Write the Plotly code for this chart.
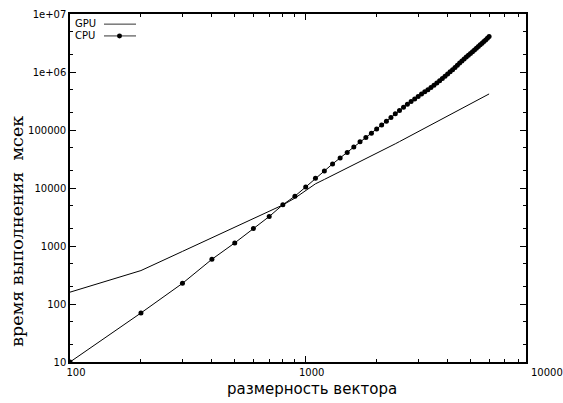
import plotly.graph_objects as go

# ---- data ----
sizes = [100, 200, 300, 400, 500, 600, 700, 800, 900, 1000,
         1100, 1200, 1300, 1400, 1500, 1600, 1700, 1800, 1900, 2000,
         2100, 2200, 2300, 2400, 2500, 2600, 2700, 2800, 2900, 3000,
         3100, 3200, 3300, 3400, 3500, 3600, 3700, 3800, 3900, 4000,
         4100, 4200, 4300, 4400, 4500, 4600, 4700, 4800, 4900, 5000,
         5100, 5200, 5300, 5400, 5500, 5600, 5700, 5800, 5900, 6000]

gpu_ms = [160, 377, 807, 1387, 2110, 2972, 3972, 5105, 6700, 8900,
          11800, 14040, 16480, 19110, 21940, 24970, 28180, 31600, 35200, 39010,
          43400, 47900, 52700, 57800, 63100, 68700, 74600, 80700, 87000, 93600,
          100400, 107600, 115000, 122700, 130600, 138800, 147200, 156000, 165000, 174300,
          183800, 193700, 203800, 214200, 224800, 235700, 246900, 258400, 270100, 282200,
          294500, 307200, 320100, 333300, 346700, 360500, 374500, 388900, 403600, 418500]

cpu_ms = [10, 70, 227, 590, 1130, 2010, 3220, 5150, 7230, 10400,
          14700, 19600, 26000, 33000, 41000, 51000, 62500, 74500, 88000, 104000,
          122000, 142000, 165000, 190000, 217000, 247000, 278500, 311000, 344000, 379000,
          416000, 455000, 495000, 538000, 589000, 643000, 704000, 770000, 843000, 923000,
          1007000, 1097000, 1199000, 1309000, 1427000, 1551000, 1675000, 1805000, 1942000, 2089000,
          2242000, 2404000, 2575000, 2754000, 2941000, 3138000, 3345000, 3560000, 3805000, 4110000]

x_tick_vals = [100, 1000]
x_tick_text = ["100", "1000"]
x_minor_vals = [200, 300, 400, 500, 600, 700, 800, 900,
                2000, 3000, 4000, 5000, 6000, 7000, 8000, 9000]
y_tick_vals = [10, 100, 1000, 10000, 100000, 1000000, 10000000]
y_tick_text = ["10", "100", "1000", "10000", "100000", "1e+06", "1e+07"]
y_minor_vals = [20, 50, 200, 500, 2000, 5000, 20000, 50000,
                200000, 500000, 2000000, 5000000]

x_title = "размерность вектора"
y_title = "время выполнения\u00a0 мсек"
series_names = ["GPU", "CPU"]

# ---- figure ----
fig = go.Figure()
fig.add_trace(go.Scatter(x=sizes, y=gpu_ms, mode="lines", name=series_names[0],
                         line=dict(color="black", width=1), showlegend=False))
fig.add_trace(go.Scatter(x=sizes, y=cpu_ms, mode="lines+markers", name=series_names[1],
                         line=dict(color="black", width=1),
                         marker=dict(color="black", size=5), showlegend=False))

tickfont = dict(family="DejaVu Sans", size=10, color="black")

fig.update_xaxes(type="log", range=[2, 3.9347], showgrid=False, zeroline=False,
                 showline=True, linecolor="black", linewidth=1.5, mirror="ticks",
                 tickmode="array", tickvals=x_tick_vals, ticktext=x_tick_text,
                 ticks="inside", ticklen=6, tickcolor="black", tickwidth=1,
                 tickfont=tickfont, ticklabelshift=6,
                 minor=dict(tickmode="array", tickvals=x_minor_vals, ticks="inside",
                            ticklen=3.5, tickcolor="black", tickwidth=1, showgrid=False))
fig.update_yaxes(type="log", range=[1, 7], showgrid=False, zeroline=False,
                 showline=True, linecolor="black", linewidth=1.5, mirror="ticks",
                 tickmode="array", tickvals=y_tick_vals, ticktext=y_tick_text,
                 ticks="inside", ticklen=6, tickcolor="black", tickwidth=1,
                 tickfont=tickfont,
                 minor=dict(tickmode="array", tickvals=y_minor_vals, ticks="inside",
                            ticklen=3.5, tickcolor="black", tickwidth=1, showgrid=False))

L, R, T, B = 70, 37, 8, 41
W, H = 563, 403
pw, ph = W - L - R, H - T - B

def px(xp):
    return (xp - L) / pw

def py(yp):
    return (H - B - yp) / ph

annotations = [
    dict(text=x_title, x=px(312), y=py(389), xref="paper", yref="paper",
         showarrow=False, xanchor="center", yanchor="middle",
         font=dict(family="DejaVu Sans", size=15, color="black")),
    dict(text=y_title, x=px(17.5), y=py(229), xref="paper", yref="paper",
         showarrow=False, xanchor="center", yanchor="middle", textangle=-90,
         font=dict(family="DejaVu Serif", size=17.5, color="black")),
    dict(text="10000", x=px(547), y=py(373), xref="paper", yref="paper",
         showarrow=False, xanchor="center", yanchor="middle", font=tickfont),
    dict(text=series_names[0], x=px(72.5), y=py(17.5), xref="paper", yref="paper",
         showarrow=False, xanchor="left", yanchor="middle", font=tickfont),
    dict(text=series_names[1], x=px(72.5), y=py(30), xref="paper", yref="paper",
         showarrow=False, xanchor="left", yanchor="middle", font=tickfont),
]

shapes = [
    dict(type="line", xref="paper", yref="paper", x0=px(104), x1=px(136),
         y0=py(18.3), y1=py(18.3), line=dict(color="#333", width=1)),
    dict(type="line", xref="paper", yref="paper", x0=px(104), x1=px(136),
         y0=py(30.3), y1=py(30.3), line=dict(color="#333", width=1)),
    dict(type="circle", xref="paper", yref="paper", x0=px(117), x1=px(122),
         y0=py(32.8), y1=py(27.8), fillcolor="black", line=dict(color="black", width=0)),
]

fig.update_layout(width=W, height=H, margin=dict(l=L, r=R, t=T, b=B, pad=0),
                  paper_bgcolor="white", plot_bgcolor="white",
                  annotations=annotations, shapes=shapes, showlegend=False,
                  font=dict(family="DejaVu Sans", size=10, color="black"))

fig.write_html("out.html", config={"displayModeBar": False},
               post_script="document.body.style.margin='0px';document.body.style.padding='0px';")
